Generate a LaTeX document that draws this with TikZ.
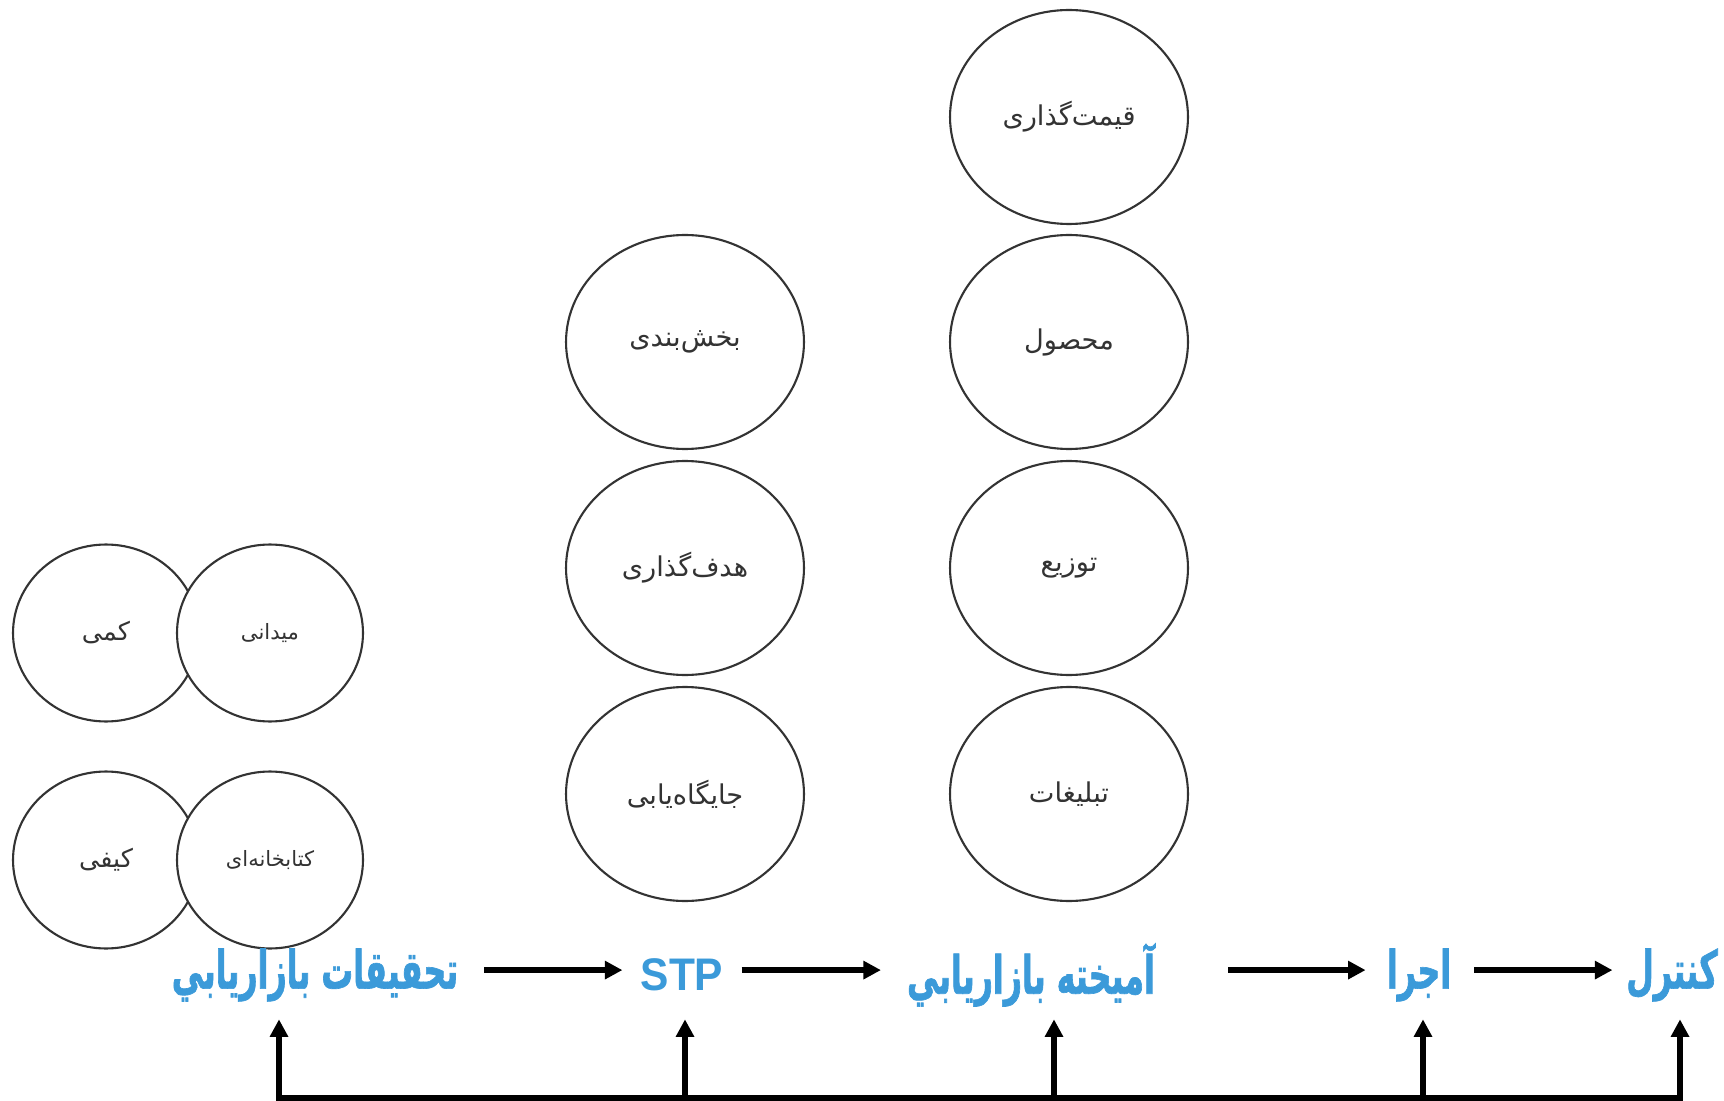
\documentclass[tikz,border=0pt]{standalone}
\usepackage{fontspec}
\setmainfont{DejaVu Sans}
\newfontfamily\arabicfont[Script=Arabic]{DejaVu Sans}
\newfontfamily\titlefont[Script=Arabic,FakeStretch=0.6,FakeBold=1.2]{DejaVu Sans}
\newfontfamily\latintitle[FakeStretch=0.93]{Liberation Sans}
\TeXXeTstate=1
\usetikzlibrary{arrows.meta, shapes.geometric}
\definecolor{stagecolor}{HTML}{3B9AD9}
\definecolor{edgegray}{HTML}{333333}
\definecolor{textgray}{HTML}{333333}
\newcommand{\fa}[1]{\beginR #1\endR}

\begin{document}
\begin{tikzpicture}[
    x=0.02cm, y=-0.02cm,
    every node/.style={font=\arabicfont},
    bubble/.style={ellipse, draw=edgegray, line width=1.2pt, fill=white, text=textgray, minimum width=4.76cm, minimum height=4.28cm, font=\arabicfont\fontsize{15.5}{18}\selectfont},
    smallbubble/.style={bubble, minimum width=3.72cm, minimum height=3.54cm, font=\arabicfont\fontsize{14.5}{16}\selectfont},
    smalltext/.style={font=\arabicfont\fontsize{12}{14}\selectfont},
    stage/.style={text=stagecolor, font=\titlefont\bfseries\fontsize{30}{34}\selectfont, inner sep=0pt, minimum height=1.76cm},
    flow/.style={-{Triangle[length=10pt,width=10pt]}, line width=3.1pt},
    lift/.style={yshift=2.8pt},
]
% Scale: 1 unit = 1 px, y grows downwards
\useasboundingbox (0,0) rectangle (1724,1101);
% Research methods
\node[smallbubble] (quant) at (106,633) {\fa{کمی}};
\node[smallbubble, smalltext] (field) at (270,633) {\fa{میدانی}};
\node[smallbubble] (qual) at (106,860) {\fa{کیفی}};
\node[smallbubble, smalltext] (library) at (270,860) {\fa{کتابخانه‌ای}};
% STP
\node[bubble] (segment) at (685,342) {\fa{بخش‌بندی}};
\node[bubble] (target) at (685,568) {\fa{هدف‌گذاری}};
\node[bubble] (place) at (685,794) {\fa{جایگاه‌یابی}};
% Marketing mix
\node[bubble] (price) at (1069,117) {\fa{قیمت‌گذاری}};
\node[bubble] (product) at (1069,342) {\fa{محصول}};
\node[bubble] (distrib) at (1069,568) {\fa{توزیع}};
\node[bubble] (promo) at (1069,794) {\fa{تبلیغات}};
% Stages
\node[stage, minimum width=5.92cm] (research) at (315,975) {\fa{تحقیقات بازاریابي}};
\node[stage, minimum width=1.69cm, font=\latintitle\bfseries\fontsize{26}{30}\selectfont] (stp) at (682,975) {STP};
\node[stage, minimum width=5.19cm] (mix) at (1031,975) {\fa{آمیخته بازاریابي}};
\node[stage, minimum width=1.27cm] (run) at (1419,975) {\fa{اجرا}};
\node[stage, minimum width=1.85cm] (control) at (1672,975) {\fa{کنترل}};
\draw[flow, shorten <=0.42cm, shorten >=0.34cm] ([lift]research.east) -- ([lift]stp.west);
\draw[flow, shorten <=0.34cm, shorten >=0.40cm] ([lift]stp.east) -- ([lift]mix.west);
\draw[flow, shorten <=1.34cm, shorten >=0.42cm] ([lift]mix.east) -- ([lift]run.west);
\draw[flow, shorten <=0.46cm, shorten >=0.26cm] ([lift]run.east) -- ([lift]control.west);
% Feedback line
\foreach \s/\x in {research/279, stp/685, mix/1054, run/1423, control/1680} {
    \coordinate (fb-\s) at (\x,1098);
    \draw[flow] (fb-\s) -- (fb-\s |- \s.south);
}
\draw[line width=3.1pt, line cap=rect] (fb-research) -- (fb-control);
\end{tikzpicture}
\end{document}
